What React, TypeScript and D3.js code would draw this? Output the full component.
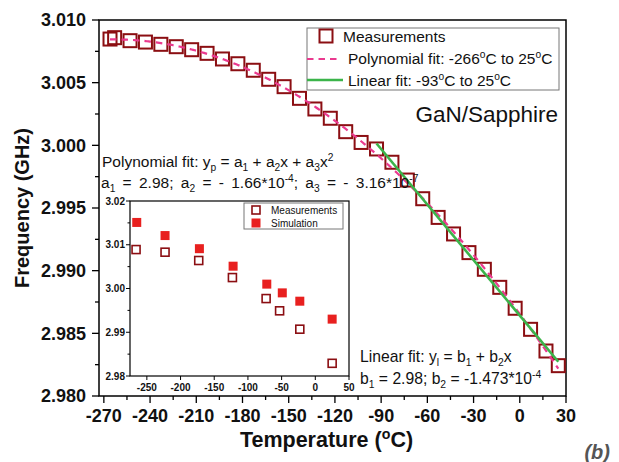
import React from "react";
import * as d3 from "d3";

// Resonance frequency of the GaN/Sapphire resonator vs. temperature
const temps = [-266, -263, -253, -243, -233, -223, -213, -203, -193, -183, -173, -163, -153, -143, -133, -123, -113, -103, -93, -83, -73, -63, -53, -43, -33, -23, -13, -3, 7, 17, 25];
const freqs = [3.00848, 3.00859, 3.00835, 3.00824, 3.00806, 3.00787, 3.00763, 3.00734, 3.00689, 3.00651, 3.00599, 3.00527, 3.00468, 3.00375, 3.0029, 3.00216, 3.00109, 3.00023, 2.99971, 2.99865, 2.99723, 2.99574, 2.99425, 2.99293, 2.99144, 2.99011, 2.98867, 2.987, 2.98532, 2.98359, 2.98242];

// Inset: measured vs simulated
const insetMeasTemps = [-266, -223, -173, -123, -73, -53, -23, 25];
const insetMeas = [3.0089, 3.0083, 3.0064, 3.0025, 2.9977, 2.9949, 2.9907, 2.9829];
const insetSimTemps = [-265, -223, -172, -122, -72, -49, -23, 25];
const insetSim = [3.0151, 3.0121, 3.0091, 3.0051, 3.001, 2.999, 2.9971, 2.993];

const xTicks = [-270, -240, -210, -180, -150, -120, -90, -60, -30, 0, 30];
const yTicks = [2.98, 2.985, 2.99, 2.995, 3.0, 3.005, 3.01];
const insetXTicks = [-250, -200, -150, -100, -50, 0, 50];
const insetYTicks = [2.98, 2.99, 3.0, 3.01, 3.02];

const linearStart = -93;

const FONT = "Arial, 'Liberation Sans', sans-serif";
const MEAS_COLOR = "#8b0e12";
const SIM_COLOR = "#e8201f";
const POLY_COLOR = "#ea3a8f";
const LIN_COLOR = "#3bb44a";

// least-squares polynomial fit of given degree
function polyFit(xs: number[], ys: number[], deg: number): number[] {
  const n = deg + 1;
  const A: number[][] = Array.from({ length: n }, () => new Array(n + 1).fill(0));
  xs.forEach((x, k) => {
    for (let i = 0; i < n; i++) {
      for (let j = 0; j < n; j++) A[i][j] += Math.pow(x, i + j);
      A[i][n] += ys[k] * Math.pow(x, i);
    }
  });
  for (let c = 0; c < n; c++) {
    let p = c;
    for (let r = c + 1; r < n; r++) if (Math.abs(A[r][c]) > Math.abs(A[p][c])) p = r;
    [A[c], A[p]] = [A[p], A[c]];
    for (let r = 0; r < n; r++) {
      if (r === c) continue;
      const f = A[r][c] / A[c][c];
      for (let k = c; k <= n; k++) A[r][k] -= f * A[c][k];
    }
  }
  return A.map((row, i) => row[n] / row[i]);
}
const evalPoly = (c: number[], x: number) => c.reduce((s, v, i) => s + v * Math.pow(x, i), 0);

type Seg = { t: string; sub?: boolean; sup?: boolean };
function Rich({ x, y, size, segs, anchor = "start", weight = "normal", wordSpacing = 0 }: { x: number; y: number; size: number; segs: Seg[]; anchor?: string; weight?: string; wordSpacing?: number }) {
  let cur = 0;
  return (
    <text x={x} y={y} fontSize={size} fontFamily={FONT} textAnchor={anchor} fontWeight={weight} fill="#111" style={{ wordSpacing: `${wordSpacing}px`, whiteSpace: "pre" }}>
      {segs.map((s, i) => {
        const target = s.sub ? size * 0.26 : s.sup ? -size * 0.38 : 0;
        const dy = target - cur;
        cur = target;
        return (
          <tspan key={i} dy={dy} fontSize={s.sub || s.sup ? size * 0.66 : size}>
            {s.t}
          </tspan>
        );
      })}
    </text>
  );
}

export default function App() {
  const W = 619, H = 462;
  const L = 99, R = 566, T = 20, B = 396;
  const x = d3.scaleLinear().domain([-273.15, 30]).range([L, R]);
  const y = d3.scaleLinear().domain([2.98, 3.01]).range([B, T]);

  const polyC = polyFit(temps, freqs, 2);
  const linIdx = temps.map((t, i) => i).filter((i) => temps[i] >= linearStart);
  const linC = polyFit(linIdx.map((i) => temps[i]), linIdx.map((i) => freqs[i]), 1);

  const polyPts = d3.range(temps[0], temps[temps.length - 1] + 0.5, 1).map((t) => [t, evalPoly(polyC, t)] as [number, number]);
  const linEnds = [linearStart, temps[temps.length - 1]].map((t) => [t, evalPoly(linC, t)] as [number, number]);
  const line = d3.line<[number, number]>().x((d) => x(d[0])).y((d) => y(d[1]));

  const minorX = d3.range(-255, 30, 30);
  const minorY = d3.range(2.9825, 3.01, 0.005);

  // inset geometry
  const iL = 130, iR = 349, iT = 201, iB = 376;
  const ix = d3.scaleLinear().domain([-275, 50]).range([iL, iR]);
  const iy = d3.scaleLinear().domain([2.98, 3.02]).range([iB, iT]);
  const insetMinorY = d3.range(2.985, 3.02, 0.01);

  const sq = 13;
  return (
    <svg width={W} height={H} style={{ position: "absolute", left: 0, top: 0, background: "#fff" }}>
      <rect width={W} height={H} fill="#fff" />
      {/* main frame */}
      <rect x={L} y={T} width={R - L} height={B - T} fill="none" stroke="#000" strokeWidth={1.5} />
      {xTicks.map((t) => (
        <g key={t}>
          <line x1={x(t)} x2={x(t)} y1={B} y2={B + 7} stroke="#000" strokeWidth={1.3} />
          <text x={x(t)} y={B + 26} textAnchor="middle" fontSize={18} fontWeight="bold" fontFamily={FONT} fill="#111">{t}</text>
        </g>
      ))}
      {minorX.map((t) => (
        <line key={t} x1={x(t)} x2={x(t)} y1={B} y2={B + 4} stroke="#000" strokeWidth={1.3} />
      ))}
      {yTicks.map((t) => (
        <g key={t}>
          <line x1={L - 7} x2={L} y1={y(t)} y2={y(t)} stroke="#000" strokeWidth={1.3} />
          <text x={L - 13} y={y(t)} dy="0.36em" textAnchor="end" fontSize={18} fontWeight="bold" fontFamily={FONT} fill="#111">{t.toFixed(3)}</text>
        </g>
      ))}
      {minorY.map((t) => (
        <line key={t} x1={L - 4} x2={L} y1={y(t)} y2={y(t)} stroke="#000" strokeWidth={1.3} />
      ))}

      {/* axis titles */}
      <Rich x={(L + R) / 2 - 6} y={447} size={21.5} weight="bold" anchor="middle" segs={[{ t: "Temperature (" }, { t: "o", sup: true }, { t: "C)" }]} />
      <text transform={`translate(29, ${(T + B) / 2}) rotate(-90)`} textAnchor="middle" fontSize={20} fontWeight="bold" fontFamily={FONT} fill="#111">Frequency (GHz)</text>
      <text x={610} y={459} textAnchor="end" fontSize={20} fontWeight="bold" fontStyle="italic" fontFamily={FONT} fill="#555">(b)</text>

      {/* measurements */}
      {temps.map((t, i) => (
        <rect key={i} x={x(t) - sq / 2} y={y(freqs[i]) - sq / 2} width={sq} height={sq} fill="none" stroke={MEAS_COLOR} strokeWidth={2} />
      ))}
      <path d={line(polyPts) || ""} fill="none" stroke={POLY_COLOR} strokeWidth={2.2} strokeDasharray="6.5,5" />
      <path d={line(linEnds) || ""} fill="none" stroke={LIN_COLOR} strokeWidth={2.6} />

      {/* legend */}
      <rect x={307} y={28} width={252} height={62} fill="#fff" stroke="#777" strokeWidth={1} />
      <rect x={326 - 6.5} y={36 - 6.5} width={sq} height={sq} fill="none" stroke={MEAS_COLOR} strokeWidth={2} />
      <text x={343} y={41.5} fontSize={15.5} fontFamily={FONT} fill="#111">Measurements</text>
      <line x1={307} x2={339} y1={59} y2={59} stroke={POLY_COLOR} strokeWidth={2.2} strokeDasharray="6.5,5" />
      <Rich x={348} y={64} size={15.5} segs={[{ t: "Polynomial fit: -266" }, { t: "o", sup: true }, { t: "C to 25" }, { t: "o", sup: true }, { t: "C" }]} />
      <line x1={307} x2={343} y1={80} y2={80} stroke={LIN_COLOR} strokeWidth={2.6} />
      <Rich x={348} y={85.5} size={15.5} segs={[{ t: "Linear fit: -93" }, { t: "o", sup: true }, { t: "C to 25" }, { t: "o", sup: true }, { t: "C" }]} />

      <text x={558} y={122} textAnchor="end" fontSize={22.5} fontFamily={FONT} fill="#111">GaN/Sapphire</text>

      {/* fit equations */}
      <Rich x={102} y={166.5} size={15.5} segs={[{ t: "Polynomial fit: y" }, { t: "p", sub: true }, { t: " = a" }, { t: "1", sub: true }, { t: " + a" }, { t: "2", sub: true }, { t: "x + a" }, { t: "3", sub: true }, { t: "x" }, { t: "2", sup: true }]} />
      <Rich x={101} y={188} size={15.5} wordSpacing={3} segs={[{ t: "a" }, { t: "1", sub: true }, { t: " = 2.98; a" }, { t: "2", sub: true }, { t: " = - 1.66*10" }, { t: "-4", sup: true }, { t: "; a" }, { t: "3", sub: true }, { t: " = - 3.16*10" }, { t: "-7", sup: true }]} />
      <Rich x={360} y={362} size={15.7} segs={[{ t: "Linear fit: y" }, { t: "l", sub: true }, { t: " = b" }, { t: "1", sub: true }, { t: " + b" }, { t: "2", sub: true }, { t: "x" }]} />
      <Rich x={360} y={384} size={15.7} segs={[{ t: "b" }, { t: "1", sub: true }, { t: " = 2.98; b" }, { t: "2", sub: true }, { t: " = -1.473*10" }, { t: "-4", sup: true }]} />

      {/* inset */}
      <rect x={iL} y={iT} width={iR - iL} height={iB - iT} fill="#fff" stroke="#000" strokeWidth={1.2} />
      {insetXTicks.map((t) => (
        <g key={t}>
          <line x1={ix(t)} x2={ix(t)} y1={iB} y2={iB + 4} stroke="#000" strokeWidth={1} />
          <text x={ix(t)} y={iB + 15} textAnchor="middle" fontSize={10} fontWeight="bold" fontFamily={FONT} fill="#111">{t}</text>
        </g>
      ))}
      {insetYTicks.map((t) => (
        <g key={t}>
          <line x1={iL - 4} x2={iL} y1={iy(t)} y2={iy(t)} stroke="#000" strokeWidth={1} />
          <text x={iL - 5} y={iy(t)} dy="0.36em" textAnchor="end" fontSize={10} fontWeight="bold" fontFamily={FONT} fill="#111">{t.toFixed(2)}</text>
        </g>
      ))}
      {insetMinorY.map((t) => (
        <line key={t} x1={iL - 2.5} x2={iL} y1={iy(t)} y2={iy(t)} stroke="#000" strokeWidth={1} />
      ))}
      {insetMeasTemps.map((t, i) => (
        <rect key={"m" + i} x={ix(t) - 4} y={iy(insetMeas[i]) - 4} width={8} height={8} fill="#fff" stroke={MEAS_COLOR} strokeWidth={1.6} />
      ))}
      {insetSimTemps.map((t, i) => (
        <rect key={"s" + i} x={ix(t) - 4.5} y={iy(insetSim[i]) - 4.5} width={9} height={9} fill={SIM_COLOR} />
      ))}
      <rect x={244} y={203} width={99} height={26} fill="#fff" stroke="#777" strokeWidth={1} />
      <rect x={252} y={206} width={8} height={8} fill="#fff" stroke={MEAS_COLOR} strokeWidth={1.6} />
      <text x={271} y={213.5} fontSize={10} fontFamily={FONT} fill="#111">Measurements</text>
      <rect x={251.5} y={218.5} width={9} height={9} fill={SIM_COLOR} />
      <text x={271} y={227} fontSize={10} fontFamily={FONT} fill="#111">Simulation</text>
    </svg>
  );
}
